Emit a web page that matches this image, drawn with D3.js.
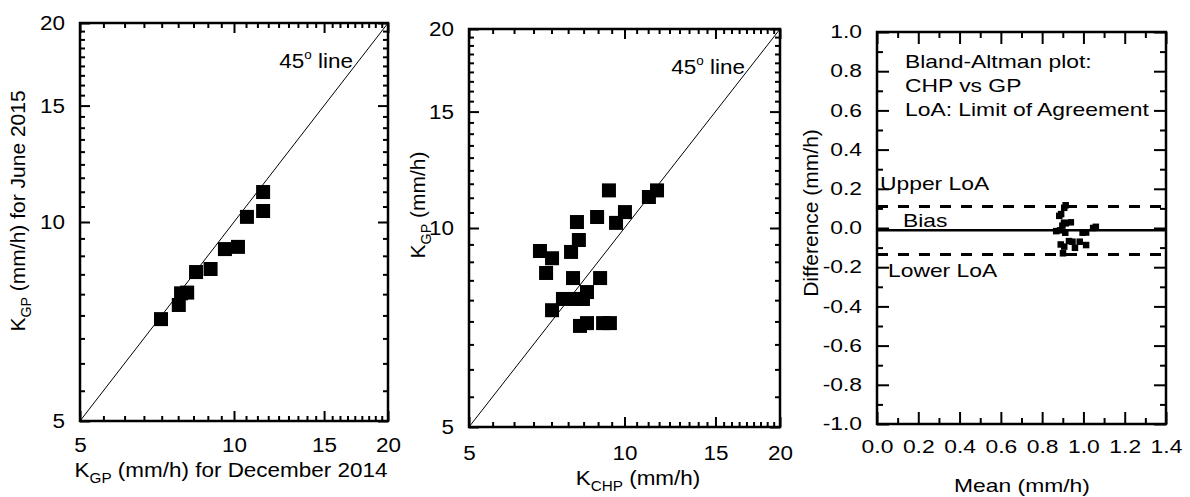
<!DOCTYPE html>
<html><head><meta charset="utf-8">
<script src="https://cdn.jsdelivr.net/npm/d3@7"></script>
<style>
body{margin:0;background:#fff;}
svg{display:block;font-family:"Liberation Sans",Arial,sans-serif;}
</style></head><body>
<svg id="c" width="1190" height="497"></svg>
<script>
// ---------- data ----------
// Panel 1: K_GP December 2014 vs June 2015
const decK = [7.2, 7.8, 7.88, 8.1, 8.43, 9.0, 9.6, 10.18, 10.6, 11.4, 11.4];
const junK = [7.13, 7.49, 7.8, 7.82, 8.4, 8.49, 9.1, 9.17, 10.18, 10.39, 11.1];
// Panel 2: K_CHP vs K_GP
const chpK = [9.33, 11.56, 11.15, 8.85, 10.02, 9.63, 8.09, 8.16, 6.86, 7.24, 7.88, 7.05, 7.95, 8.97, 8.46, 7.6, 8.02, 8.31, 7.24, 8.2, 8.46, 9.09, 9.37];
const gpK  = [11.4, 11.4, 11.14, 10.39, 10.57, 10.18, 10.21, 9.59, 9.23, 9.0, 9.2, 8.55, 8.4, 8.4, 8.0, 7.81, 7.81, 7.81, 7.51, 7.11, 7.18, 7.18, 7.18];
// Panel 3: Bland-Altman
const baMean = [1.013, 1.060, 1.047, 0.982, 1.013, 0.996, 0.959, 0.947, 0.901, 0.907, 0.930, 0.890, 0.912, 0.939, 0.915, 0.887, 0.898, 0.906, 0.868, 0.883, 0.892, 0.907, 0.914];
const baDiff = [-0.087, 0.006, 0.000, -0.070, -0.023, -0.024, -0.101, -0.070, -0.129, -0.095, -0.067, -0.084, -0.024, 0.029, 0.024, -0.012, 0.012, 0.027, -0.016, 0.062, 0.071, 0.103, 0.116];
const biasVal = -0.012, upperLoA = 0.11, lowerLoA = -0.135;
// ticks
const logTicks = [5, 10, 15, 20];
const baXTicks = [0.0, 0.2, 0.4, 0.6, 0.8, 1.0, 1.2, 1.4];
const baYTicks = [-1.0, -0.8, -0.6, -0.4, -0.2, 0.0, 0.2, 0.4, 0.6, 0.8, 1.0];
const baXMinor = [0.1, 0.3, 0.5, 0.7, 0.9, 1.1, 1.3];
const baYMinor = [-0.9, -0.7, -0.5, -0.3, -0.1, 0.1, 0.3, 0.5, 0.7, 0.9];

// ---------- helpers ----------
const svg = d3.select("#c");

function richText(g, x, y, parts, fs, anchor, s, rotate) {
  const t = g.append("text").attr("font-size", fs).attr("text-anchor", anchor).attr("fill", "#000");
  if (rotate) {
    t.attr("transform", `translate(${x},${y}) rotate(-90)`);
  } else {
    t.attr("x", x).attr("y", y);
    if (s && s !== 1) t.attr("transform", `translate(${x * (1 - s)},0) scale(${s},1)`);
  }
  let shift = 0;
  parts.forEach(p => {
    const [txt, kind] = p;
    const ts = t.append("tspan").text(txt);
    let target = 0, size = fs;
    if (kind === "sub") { target = fs * 0.3; size = fs * 0.68; }
    if (kind === "sup") { target = -fs * 0.45; size = fs * 0.6; }
    ts.attr("font-size", size);
    if (target - shift !== 0) ts.attr("dy", target - shift);
    shift = target;
  });
  return t;
}

function stretchAxisText(g, s) {
  g.selectAll("text").each(function () {
    const t = d3.select(this);
    const x = +t.attr("x") || 0;
    t.attr("transform", `translate(${x * (1 - s)},0) scale(${s},1)`);
  });
}

function styleAxis(g, w) {
  g.select(".domain").remove();
  g.selectAll("line").attr("stroke", "#000").attr("stroke-width", w);
}

function frameAxes(g, x, y, c, major, minor, majLen, minLen, fmt, fs, padX, padY, s) {
  const b = g.append("g").attr("transform", `translate(0,${c.y1})`)
    .call(d3.axisBottom(x).tickValues(major).tickSize(-majLen).tickPadding(padX).tickFormat(fmt));
  styleAxis(b, 2); b.selectAll("text").attr("font-size", fs).attr("fill", "#000").attr("font-family", null);
  stretchAxisText(b, s);
  g.append("g").attr("transform", `translate(0,${c.y1})`)
    .call(d3.axisBottom(x).tickValues(minor.x).tickSize(-minLen).tickFormat("")).call(a => styleAxis(a, 2));
  g.append("g").attr("transform", `translate(0,${c.y0})`)
    .call(d3.axisTop(x).tickValues(major).tickSize(-majLen).tickFormat("")).call(a => styleAxis(a, 2));
  g.append("g").attr("transform", `translate(0,${c.y0})`)
    .call(d3.axisTop(x).tickValues(minor.x).tickSize(-minLen).tickFormat("")).call(a => styleAxis(a, 2));
  const l = g.append("g").attr("transform", `translate(${c.x0},0)`)
    .call(d3.axisLeft(y).tickValues(major.yv || major).tickSize(-majLen).tickPadding(padY).tickFormat(fmt));
  styleAxis(l, 2); l.selectAll("text").attr("font-size", fs).attr("fill", "#000").attr("font-family", null);
  stretchAxisText(l, s);
  g.append("g").attr("transform", `translate(${c.x0},0)`)
    .call(d3.axisLeft(y).tickValues(minor.y).tickSize(-minLen).tickFormat("")).call(a => styleAxis(a, 2));
  g.append("g").attr("transform", `translate(${c.x1},0)`)
    .call(d3.axisRight(y).tickValues(major.yv || major).tickSize(-majLen).tickFormat("")).call(a => styleAxis(a, 2));
  g.append("g").attr("transform", `translate(${c.x1},0)`)
    .call(d3.axisRight(y).tickValues(minor.y).tickSize(-minLen).tickFormat("")).call(a => styleAxis(a, 2));
  g.append("rect").attr("x", c.x0).attr("y", c.y0).attr("width", c.x1 - c.x0).attr("height", c.y1 - c.y0)
    .attr("fill", "none").attr("stroke", "#000").attr("stroke-width", 2.5);
}

// ---------- log panels ----------
const minorLog = [];
[5, 10, 15].forEach(a => { for (let k = 1; k <= 8; k++) minorLog.push(a + k * 5 / 9); });

function logPanel(c, xs, ys, padX) {
  const g = svg.append("g");
  const x = d3.scaleLog().domain([5, 20]).range([c.x0, c.x1]);
  const y = d3.scaleLog().domain([5, 20]).range([c.y1, c.y0]);
  frameAxes(g, x, y, c, logTicks, { x: minorLog, y: minorLog }, 10, 5, d3.format("d"), 21, padX, 15, 1.07);
  g.append("line").attr("x1", x(5)).attr("y1", y(5)).attr("x2", x(20)).attr("y2", y(20))
    .attr("stroke", "#000").attr("stroke-width", 1);
  const sz = 14;
  g.selectAll("rect.pt").data(xs.map((v, i) => [v, ys[i]])).join("rect").attr("class", "pt")
    .attr("x", d => x(d[0]) - sz / 2).attr("y", d => y(d[1]) - sz / 2)
    .attr("width", sz).attr("height", sz).attr("fill", "#000");
  return { g, x, y };
}

const c1 = { x0: 80, x1: 388, y0: 23, y1: 421 };
const p1 = logPanel(c1, decK, junK, 16);
richText(p1.g, 353, 68, [["45"], ["o", "sup"], [" line"]], 21, "end", 1.07);
richText(p1.g, 231, 477, [["K"], ["GP", "sub"], [" (mm/h) for December 2014"]], 21, "middle", 1.07);
richText(p1.g, 25, 211, [["K"], ["GP", "sub"], [" (mm/h) for June 2015"]], 21, "middle", 1, true);

const c2 = { x0: 469, x1: 780, y0: 29, y1: 427 };
const p2 = logPanel(c2, chpK, gpK, 18);
richText(p2.g, 745, 74, [["45"], ["o", "sup"], [" line"]], 21, "end", 1.07);
richText(p2.g, 638, 485, [["K"], ["CHP", "sub"], [" (mm/h)"]], 21, "middle", 1.07);
richText(p2.g, 425, 205, [["K"], ["GP", "sub"], [" (mm/h)"]], 21, "middle", 1, true);

// ---------- Bland-Altman panel ----------
const c3 = { x0: 877, x1: 1166, y0: 32, y1: 424 };
const g3 = svg.append("g");
const x3 = d3.scaleLinear().domain([0, 1.4]).range([c3.x0, c3.x1]);
const y3 = d3.scaleLinear().domain([-1, 1]).range([c3.y1, c3.y0]);
const majorBA = baXTicks.slice(); majorBA.yv = baYTicks;
frameAxes(g3, x3, y3, c3, majorBA, { x: baXMinor, y: baYMinor }, 12, 6, d => d.toFixed(1), 18, 16, 15, 1.27);

g3.append("line").attr("x1", c3.x0).attr("x2", c3.x1).attr("y1", y3(biasVal)).attr("y2", y3(biasVal))
  .attr("stroke", "#000").attr("stroke-width", 2.5);
[upperLoA, lowerLoA].forEach(v => {
  g3.append("line").attr("x1", c3.x0).attr("x2", c3.x1).attr("y1", y3(v)).attr("y2", y3(v))
    .attr("stroke", "#000").attr("stroke-width", 3).attr("stroke-dasharray", "11,10");
});
const s3 = 6.5;
g3.selectAll("rect.pt").data(baMean.map((v, i) => [v, baDiff[i]])).join("rect").attr("class", "pt")
  .attr("x", d => x3(d[0]) - s3 / 2).attr("y", d => y3(d[1]) - s3 / 2)
  .attr("width", s3).attr("height", s3).attr("fill", "#000");

richText(g3, 905, 68, [["Bland-Altman plot:"]], 18, "start", 1.27);
richText(g3, 905, 92, [["CHP vs GP"]], 18, "start", 1.27);
richText(g3, 905, 116, [["LoA: Limit of Agreement"]], 18, "start", 1.27);
richText(g3, 880, 190, [["Upper LoA"]], 18, "start", 1.27);
richText(g3, 903, 227, [["Bias"]], 18, "start", 1.27);
richText(g3, 888, 277, [["Lower LoA"]], 18, "start", 1.27);
richText(g3, 1022, 492, [["Mean (mm/h)"]], 18, "middle", 1.27);
richText(g3, 818, 213, [["Difference (mm/h)"]], 21, "middle", 1, true);
</script>
</body></html>
